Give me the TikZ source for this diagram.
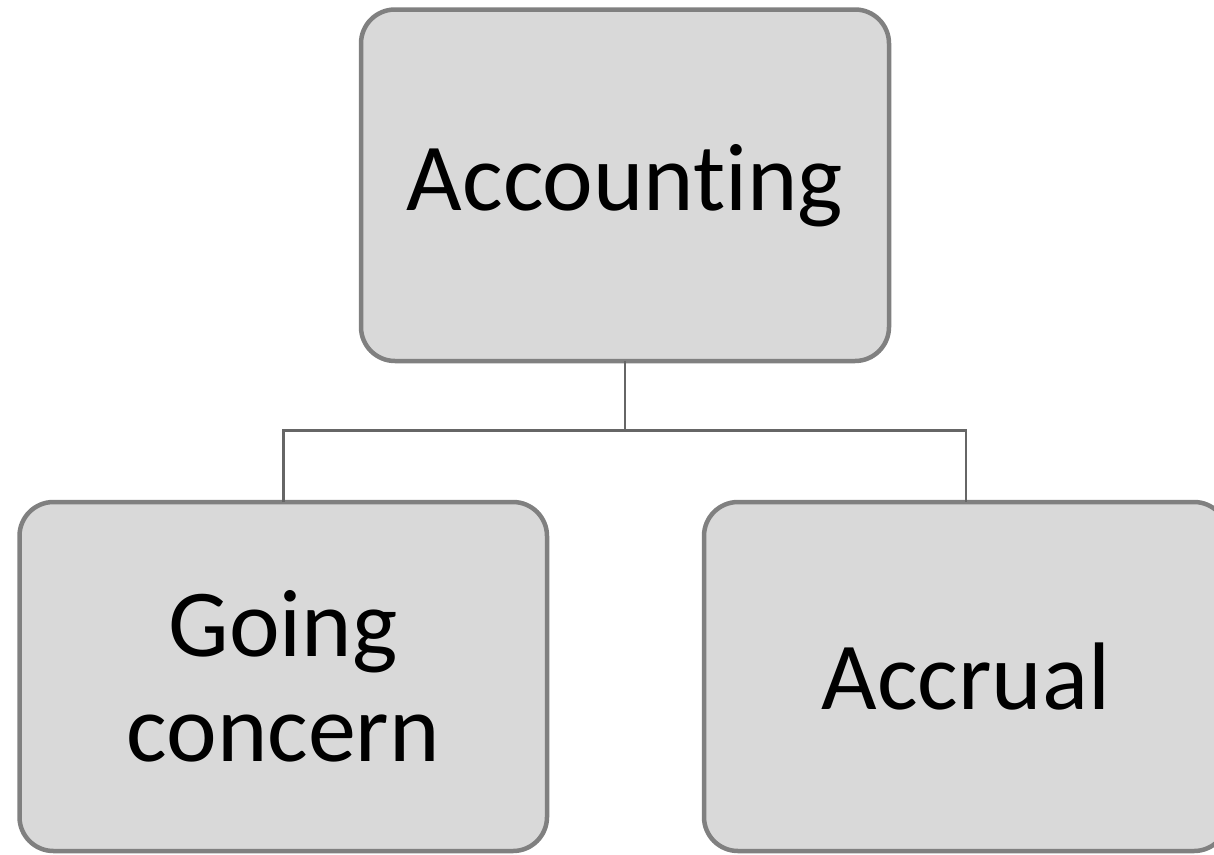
\documentclass[tikz,border=0pt]{standalone}
\usepackage{fontspec}
\setmainfont[Ligatures={NoCommon,NoContextual}]{Carlito}
\definecolor{boxfill}{HTML}{D9D9D9}
\definecolor{boxline}{HTML}{808080}
\definecolor{connline}{HTML}{666666}
\tikzset{
  orgbox/.style={draw=boxline, fill=boxfill, line width=4.5pt, rounded corners=34pt,
    align=center, inner sep=0pt, outer sep=0pt,
    font=\fontsize{96}{105}\selectfont, text=black},
  conn/.style={draw=connline, line width=2.5pt}
}
\begin{document}
\begin{tikzpicture}[x=1pt,y=-1pt]
\useasboundingbox (0,0) rectangle (1214,854);
\node[orgbox, minimum width=528pt, minimum height=351.5pt] (top) at (625,185.25) {Accounting};
\node[orgbox, minimum width=527.5pt, minimum height=349pt] (left) at (283.25,676.5) {Going\\concern};
\node[orgbox, minimum width=524pt, minimum height=349pt] (right) at (966,676.5) {Accrual};
\coordinate (j) at (625,430.5);
\draw[conn] (top.south) -- (j);
\draw[conn] (left.north) |- (j) -| (right.north);
\end{tikzpicture}
\end{document}
